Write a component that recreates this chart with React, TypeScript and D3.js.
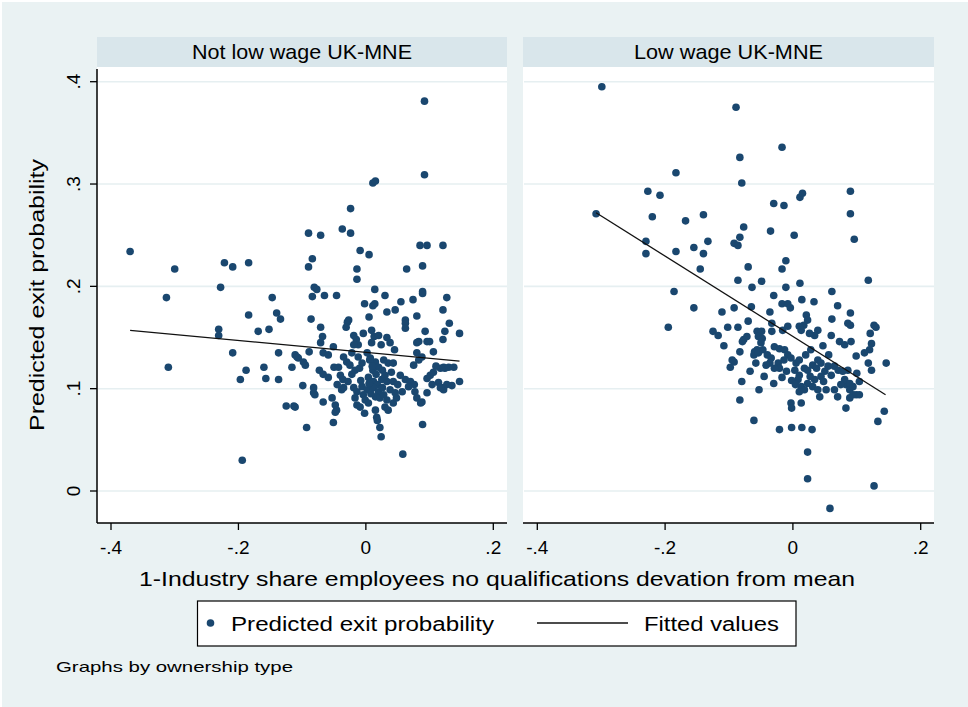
import { useEffect, useRef } from "react";
import * as d3 from "d3";

const W = 968;
const H = 707;
const FONT = "'Liberation Sans', Arial, Helvetica, sans-serif";

/** Stata s2color-ish palette */
const OUTER_BG = "#eaf2f3";
const HEADER_FILL = "#d9e6eb";
const GRID_STROKE = "#e6eff1";
const MARKER_FILL = "#1a476f";
const INK = "#000";

const PANEL_TITLES = ["Not low wage UK-MNE", "Low wage UK-MNE"];
const PANEL_TITLE_WIDTHS = [220, 189];
const X_TICKS = [-0.4, -0.2, 0, 0.2];
const Y_TICKS = [0, 0.1, 0.2, 0.3, 0.4];
const Y_TITLE = "Predicted exit probability";
const X_TITLE = "1-Industry share employees no qualifications devation from mean";
const LEGEND_LABELS = ["Predicted exit probability", "Fitted values"];
const NOTE = "Graphs by ownership type";

// [deviation, predicted exit probability]
const notLowWagePoints: [number, number][] = [
  [-0.37, 0.234], [-0.313, 0.189], [-0.3, 0.217], [-0.228, 0.199], [-0.222, 0.223],
  [-0.209, 0.219], [-0.184, 0.223], [-0.147, 0.189], [-0.09, 0.252], [-0.09, 0.219],
  [-0.084, 0.227], [-0.071, 0.25], [-0.081, 0.199], [-0.077, 0.197], [-0.084, 0.19],
  [-0.065, 0.191], [-0.046, 0.191], [-0.037, 0.256], [-0.024, 0.276], [-0.024, 0.252],
  [-0.014, 0.217], [-0.014, 0.207], [-0.009, 0.235], [0.005, 0.231], [0.011, 0.301],
  [0.015, 0.303], [0.014, 0.197], [0.03, 0.191], [0.092, 0.381], [0.092, 0.309],
  [0.085, 0.24], [0.096, 0.24], [0.121, 0.24], [0.089, 0.22], [0.064, 0.217],
  [0.089, 0.195], [0.089, 0.193], [0.127, 0.189], [0.055, 0.185], [0.074, 0.187],
  [-0.002, 0.183], [0.011, 0.181], [0.014, 0.183], [0.033, 0.175], [0.046, 0.177],
  [0.121, 0.177], [-0.086, 0.168], [-0.027, 0.167], [0.005, 0.17], [0.062, 0.167],
  [0.08, 0.171], [-0.231, 0.158], [-0.231, 0.152], [-0.31, 0.121], [-0.209, 0.135],
  [-0.184, 0.172], [-0.169, 0.156], [-0.152, 0.158], [-0.14, 0.174], [-0.134, 0.168],
  [-0.137, 0.135], [-0.188, 0.118], [-0.197, 0.109], [-0.16, 0.121], [-0.157, 0.11],
  [-0.137, 0.109], [-0.116, 0.121], [-0.111, 0.133], [-0.106, 0.13], [-0.125, 0.083],
  [-0.113, 0.083], [-0.194, 0.03], [-0.099, 0.103], [-0.093, 0.062], [-0.071, 0.16],
  [-0.068, 0.151], [-0.071, 0.145], [-0.029, 0.165], [-0.031, 0.16], [0.062, 0.164],
  [0.062, 0.159], [0.093, 0.156], [0.131, 0.164], [0.124, 0.156], [0.121, 0.148],
  [0.147, 0.154], [0.096, 0.146], [0.1, 0.146], [0.08, 0.145], [0.106, 0.136],
  [-0.108, 0.131], [-0.098, 0.126], [-0.095, 0.123], [-0.089, 0.136], [-0.067, 0.135],
  [-0.059, 0.133], [-0.051, 0.141], [-0.035, 0.131], [-0.03, 0.126], [-0.022, 0.135],
  [-0.019, 0.152], [-0.015, 0.148], [-0.012, 0.143], [-0.019, 0.143], [-0.004, 0.154],
  [0.009, 0.157], [0.013, 0.151], [0.009, 0.145], [0.02, 0.152], [0.024, 0.143],
  [0.033, 0.15], [0.038, 0.145], [-0.073, 0.118], [-0.067, 0.114], [-0.059, 0.111],
  [-0.05, 0.121], [-0.04, 0.113], [-0.036, 0.109], [-0.025, 0.123], [-0.017, 0.118],
  [-0.01, 0.12], [-0.006, 0.125], [0.007, 0.13], [0.015, 0.126], [0.02, 0.121],
  [0.011, 0.118], [0.028, 0.128], [0.035, 0.125], [0.043, 0.125], [0.004, 0.111],
  [0.012, 0.107], [0.018, 0.104], [0.025, 0.109], [0.033, 0.107], [0.054, 0.113],
  [0.043, 0.107], [0.062, 0.109], [0.07, 0.107], [0.076, 0.104], [0.067, 0.102],
  [0.075, 0.123], [0.083, 0.128], [0.08, 0.135], [0.088, 0.131], [0.083, 0.146],
  [0.096, 0.11], [0.101, 0.113], [0.106, 0.116], [0.117, 0.12], [0.124, 0.12],
  [0.114, 0.106], [0.119, 0.101], [0.122, 0.099], [0.127, 0.104], [0.135, 0.103],
  [0.147, 0.107], [-0.082, 0.101], [-0.08, 0.094], [-0.082, 0.096], [-0.111, 0.082],
  [-0.038, 0.099], [-0.035, 0.101], [-0.019, 0.101], [-0.014, 0.097], [-0.006, 0.102],
  [0.002, 0.099], [-0.004, 0.094], [-0.017, 0.091], [-0.014, 0.084], [-0.009, 0.082],
  [-0.001, 0.089], [0.004, 0.086], [0.012, 0.101], [0.02, 0.097], [0.015, 0.092],
  [0.022, 0.091], [0.033, 0.089], [0.03, 0.082], [0.035, 0.079], [0.043, 0.086],
  [0.048, 0.091], [0.038, 0.099], [0.046, 0.096], [0.077, 0.097], [0.08, 0.091],
  [0.088, 0.087], [0.096, 0.096], [-0.067, 0.087], [-0.053, 0.091], [-0.048, 0.084],
  [-0.046, 0.079], [0.015, 0.079], [0.017, 0.072], [0.018, 0.069], [-0.051, 0.067],
  [0.022, 0.062], [0.024, 0.053], [0.089, 0.065], [0.058, 0.036], [0.122, 0.121],
  [0.13, 0.121], [0.117, 0.101], [0.086, 0.086], [-0.048, 0.077],
  [0.002, 0.135], [0.006, 0.128], [0.01, 0.122], [0.016, 0.114], [0.026, 0.118],
  [0.03, 0.113], [0.04, 0.116], [0.008, 0.095], [0.026, 0.101], [0.005, 0.105],
  [-0.008, 0.108], [-0.028, 0.107], [-0.022, 0.114], [-0.045, 0.104], [0.05, 0.104],
  [0.057, 0.097], [0.104, 0.104], [0.11, 0.122], [0.138, 0.121], [-0.043, 0.121],
  [-0.012, 0.131], [0.045, 0.138], [0.028, 0.094], [-0.002, 0.076],
];

const lowWagePoints: [number, number][] = [
  [-0.299, 0.395], [-0.089, 0.375], [-0.017, 0.336], [-0.083, 0.326], [-0.183, 0.311],
  [-0.08, 0.301], [-0.227, 0.293], [-0.208, 0.289], [-0.03, 0.281], [-0.014, 0.279],
  [0.011, 0.287], [0.015, 0.291], [0.09, 0.293], [0.09, 0.271], [0.096, 0.246],
  [-0.308, 0.271], [-0.22, 0.268], [-0.168, 0.264], [-0.14, 0.27], [-0.077, 0.258],
  [-0.083, 0.248], [-0.092, 0.242], [-0.086, 0.24], [-0.133, 0.244], [-0.035, 0.254],
  [0.002, 0.25], [-0.23, 0.244], [-0.23, 0.232], [-0.183, 0.234], [-0.155, 0.238],
  [-0.14, 0.232], [-0.145, 0.217], [-0.07, 0.219], [-0.011, 0.225], [-0.017, 0.217],
  [-0.086, 0.206], [-0.064, 0.199], [-0.049, 0.205], [-0.03, 0.191], [-0.011, 0.199],
  [0.011, 0.203], [0.061, 0.195], [0.118, 0.206], [-0.186, 0.195], [-0.155, 0.179],
  [-0.111, 0.175], [-0.092, 0.179], [-0.065, 0.18], [-0.07, 0.166], [-0.195, 0.16],
  [-0.125, 0.156], [-0.117, 0.152], [-0.102, 0.16], [-0.086, 0.16], [-0.056, 0.156],
  [-0.077, 0.148], [-0.072, 0.151], [-0.079, 0.146], [-0.108, 0.142], [-0.083, 0.136],
  [-0.061, 0.133], [-0.056, 0.138], [-0.092, 0.126], [-0.098, 0.121], [-0.067, 0.117],
  [-0.058, 0.125], [-0.08, 0.107], [-0.053, 0.099], [-0.083, 0.089], [-0.061, 0.069],
  [-0.036, 0.175], [-0.017, 0.183], [-0.008, 0.183], [-0.004, 0.179], [0.014, 0.187],
  [0.033, 0.185], [0.07, 0.181], [0.09, 0.174], [0.061, 0.168], [0.086, 0.164],
  [0.09, 0.162], [0.127, 0.162], [0.13, 0.16], [0.121, 0.154], [0.123, 0.144],
  [0.12, 0.138], [0.146, 0.125], [0.118, 0.125], [0.123, 0.118], [0.099, 0.132],
  [0.073, 0.146], [0.081, 0.143], [0.091, 0.146], [0.056, 0.133], [0.06, 0.152],
  [0.039, 0.157], [0.034, 0.152], [0.026, 0.154], [0.021, 0.172], [0.023, 0.167],
  [0.017, 0.162], [0.01, 0.161], [0.013, 0.157], [-0.008, 0.161], [-0.016, 0.157],
  [-0.033, 0.156], [-0.033, 0.164], [-0.049, 0.156], [-0.054, 0.151], [-0.048, 0.149],
  [-0.095, 0.128], [-0.06, 0.136], [-0.054, 0.135], [-0.047, 0.138], [-0.04, 0.133],
  [-0.034, 0.13], [-0.036, 0.125], [-0.042, 0.123], [-0.029, 0.141], [-0.021, 0.139],
  [-0.013, 0.138], [-0.008, 0.133], [-0.014, 0.128], [-0.023, 0.125], [-0.021, 0.12],
  [-0.029, 0.12], [-0.003, 0.13], [0.005, 0.125], [0.01, 0.128], [0.003, 0.118],
  [0.01, 0.113], [0.018, 0.12], [0.023, 0.118], [0.031, 0.123], [0.037, 0.12],
  [0.039, 0.128], [0.044, 0.125], [0.05, 0.117], [0.044, 0.112], [0.055, 0.122],
  [0.008, 0.109], [0.013, 0.102], [0.018, 0.099], [0.01, 0.097], [0.023, 0.105],
  [0.031, 0.102], [0.034, 0.109], [0.039, 0.099], [0.042, 0.092], [-0.003, 0.086],
  [-0.002, 0.081], [0.013, 0.086], [0.065, 0.099], [0.07, 0.092], [0.083, 0.104],
  [0.089, 0.099], [0.094, 0.094], [0.099, 0.094], [0.104, 0.094], [0.083, 0.081],
  [0.089, 0.091], [0.081, 0.109], [0.089, 0.105], [0.094, 0.102], [0.065, 0.122],
  [0.071, 0.118], [0.078, 0.117], [0.086, 0.118], [0.104, 0.107], [0.143, 0.078],
  [0.133, 0.068], [-0.021, 0.06], [-0.002, 0.062], [0.014, 0.062], [0.03, 0.06],
  [0.023, 0.038], [0.023, 0.012], [0.127, 0.005], [0.058, -0.017],
  [-0.002, 0.108], [0.004, 0.104], [0.027, 0.112], [0.048, 0.107], [0.052, 0.099],
  [0.06, 0.113], [-0.01, 0.117], [-0.017, 0.111], [-0.045, 0.112], [-0.03, 0.105],
  [0.02, 0.133], [0.028, 0.138], [0.075, 0.104], [0.1, 0.115], [0.112, 0.135],
  [-0.05, 0.145], [0.047, 0.142],
];

// OLS fitted line end points
const notLowWageFit: [number, number][] = [[-0.37, 0.157], [0.147, 0.127]];
const lowWageFit: [number, number][] = [[-0.308, 0.272], [0.145, 0.094]];

/** Panel geometry (px). x0/x1 are where -.4 and .2 fall. */
const PANELS = [
  { left: 97, right: 507, x0: 111, x1: 493.3, showY: true },
  { left: 523, right: 934, x0: 537.3, x1: 920.7, showY: false },
];
const HEADER_TOP = 37;
const PLOT_TOP = 67;
const PLOT_BOTTOM = 523;
const Y0_PX = 491;
const Y4_PX = 81.7;

/** Stata-style tick label: .2, -.4, 0 */
function stataNum(v: number) {
  if (Math.abs(v) < 1e-9) return "0";
  const s = String(Math.abs(+v.toFixed(2))).replace(/^0/, "");
  return (v < 0 ? "-" : "") + s;
}

export default function App() {
  const svgRef = useRef<SVGSVGElement | null>(null);

  useEffect(() => {
    const svg = d3.select(svgRef.current);
    svg.selectAll("*").remove();

    svg.append("rect").attr("width", W).attr("height", H).attr("fill", "#fff");
    svg
      .append("rect")
      .attr("x", 2)
      .attr("y", 2)
      .attr("width", W - 2)
      .attr("height", H - 2)
      .attr("fill", OUTER_BG);

    const y = d3.scaleLinear().domain([0, 0.4]).range([Y0_PX, Y4_PX]);
    const series = [
      { pts: notLowWagePoints, fit: notLowWageFit },
      { pts: lowWagePoints, fit: lowWageFit },
    ];

    PANELS.forEach((p, i) => {
      const x = d3.scaleLinear().domain([-0.4, 0.2]).range([p.x0, p.x1]);
      const g = svg.append("g");

      // subtitle strip
      g.append("rect")
        .attr("x", p.left)
        .attr("y", HEADER_TOP)
        .attr("width", p.right - p.left)
        .attr("height", PLOT_TOP - HEADER_TOP)
        .attr("fill", HEADER_FILL);
      g.append("text")
        .attr("x", (p.left + p.right) / 2)
        .attr("y", 59)
        .attr("text-anchor", "middle")
        .attr("font-family", FONT)
        .attr("font-size", 21)
        .attr("textLength", PANEL_TITLE_WIDTHS[i])
        .attr("lengthAdjust", "spacingAndGlyphs")
        .attr("fill", INK)
        .text(PANEL_TITLES[i]);

      // plot region
      g.append("rect")
        .attr("x", p.left)
        .attr("y", PLOT_TOP)
        .attr("width", p.right - p.left)
        .attr("height", PLOT_BOTTOM - PLOT_TOP)
        .attr("fill", "#fff");

      g.selectAll(".grid")
        .data(Y_TICKS)
        .join("line")
        .attr("x1", p.left + 1)
        .attr("x2", p.right)
        .attr("y1", (d) => y(d))
        .attr("y2", (d) => y(d))
        .attr("stroke", GRID_STROKE)
        .attr("stroke-width", 1.6);

      // markers
      g.append("g")
        .selectAll("circle")
        .data(series[i].pts)
        .join("circle")
        .attr("cx", (d) => x(d[0]))
        .attr("cy", (d) => y(d[1]))
        .attr("r", 3.8)
        .attr("fill", MARKER_FILL);

      // fitted line
      g.append("path")
        .attr(
          "d",
          d3
            .line<[number, number]>()
            .x((d) => x(d[0]))
            .y((d) => y(d[1]))(series[i].fit)
        )
        .attr("fill", "none")
        .attr("stroke", "#111")
        .attr("stroke-width", 1.3);

      // x axis
      g.append("line")
        .attr("x1", p.left)
        .attr("x2", p.right)
        .attr("y1", PLOT_BOTTOM)
        .attr("y2", PLOT_BOTTOM)
        .attr("stroke", INK)
        .attr("stroke-width", 1.5);
      const xt = g.append("g");
      xt.selectAll("line")
        .data(X_TICKS)
        .join("line")
        .attr("x1", (d) => x(d))
        .attr("x2", (d) => x(d))
        .attr("y1", PLOT_BOTTOM)
        .attr("y2", PLOT_BOTTOM + 7)
        .attr("stroke", INK)
        .attr("stroke-width", 1.3);
      xt.selectAll("text")
        .data(X_TICKS)
        .join("text")
        .attr("x", (d) => x(d))
        .attr("y", 554)
        .attr("text-anchor", "middle")
        .attr("font-family", FONT)
        .attr("font-size", 19)
        .attr("fill", INK)
        .text((d) => stataNum(d));

      if (p.showY) {
        g.append("line")
          .attr("x1", p.left)
          .attr("x2", p.left)
          .attr("y1", PLOT_TOP + 2)
          .attr("y2", PLOT_BOTTOM)
          .attr("stroke", INK)
          .attr("stroke-width", 1.5);
        const yt = g.append("g");
        yt.selectAll("line")
          .data(Y_TICKS)
          .join("line")
          .attr("x1", p.left - 7)
          .attr("x2", p.left)
          .attr("y1", (d) => y(d))
          .attr("y2", (d) => y(d))
          .attr("stroke", INK)
          .attr("stroke-width", 1.3);
        yt.selectAll("text")
          .data(Y_TICKS)
          .join("text")
          .attr("transform", (d) => `translate(80,${y(d)}) rotate(-90)`)
          .attr("text-anchor", "middle")
          .attr("font-family", FONT)
          .attr("font-size", 19)
          .attr("fill", INK)
          .text((d) => stataNum(d));
      }
    });

    // axis titles
    svg
      .append("text")
      .attr("transform", `translate(44,${(PLOT_TOP + PLOT_BOTTOM) / 2}) rotate(-90)`)
      .attr("text-anchor", "middle")
      .attr("font-family", FONT)
      .attr("font-size", 21)
      .attr("textLength", 272)
      .attr("lengthAdjust", "spacingAndGlyphs")
      .attr("fill", INK)
      .text(Y_TITLE);
    svg
      .append("text")
      .attr("x", 497)
      .attr("y", 586)
      .attr("text-anchor", "middle")
      .attr("font-family", FONT)
      .attr("font-size", 21)
      .attr("textLength", 716)
      .attr("lengthAdjust", "spacingAndGlyphs")
      .attr("fill", INK)
      .text(X_TITLE);

    // legend
    const lg = svg.append("g");
    lg.append("rect")
      .attr("x", 197.5)
      .attr("y", 601)
      .attr("width", 598.5)
      .attr("height", 45)
      .attr("fill", "#fff")
      .attr("stroke", INK)
      .attr("stroke-width", 1.2);
    lg.append("circle").attr("cx", 210.5).attr("cy", 623).attr("r", 3.8).attr("fill", MARKER_FILL);
    lg.append("text")
      .attr("x", 231)
      .attr("y", 631)
      .attr("font-family", FONT)
      .attr("font-size", 20)
      .attr("textLength", 263)
      .attr("lengthAdjust", "spacingAndGlyphs")
      .attr("fill", INK)
      .text(LEGEND_LABELS[0]);
    lg.append("line")
      .attr("x1", 537)
      .attr("x2", 628)
      .attr("y1", 623)
      .attr("y2", 623)
      .attr("stroke", "#111")
      .attr("stroke-width", 1.3);
    lg.append("text")
      .attr("x", 644)
      .attr("y", 631)
      .attr("font-family", FONT)
      .attr("font-size", 20)
      .attr("textLength", 135)
      .attr("lengthAdjust", "spacingAndGlyphs")
      .attr("fill", INK)
      .text(LEGEND_LABELS[1]);

    svg
      .append("text")
      .attr("x", 56)
      .attr("y", 672)
      .attr("font-family", FONT)
      .attr("font-size", 15)
      .attr("textLength", 237)
      .attr("lengthAdjust", "spacingAndGlyphs")
      .attr("fill", INK)
      .text(NOTE);
  }, []);

  return (
    <svg
      ref={svgRef}
      width={W}
      height={H}
      viewBox={`0 0 ${W} ${H}`}
      style={{ position: "absolute", left: 0, top: 0, display: "block" }}
      role="img"
      aria-label="Predicted exit probability by ownership type"
    />
  );
}
